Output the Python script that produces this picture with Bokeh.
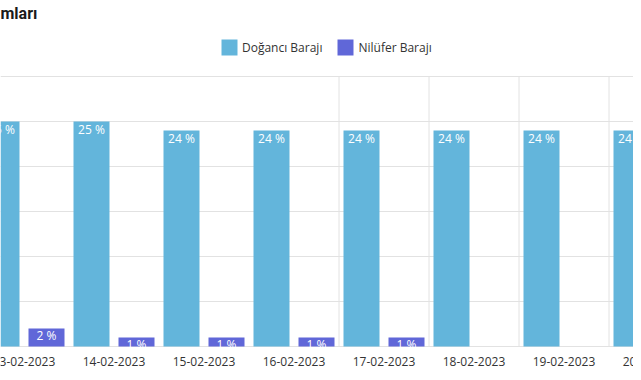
import numpy as np
from bokeh.plotting import figure
from bokeh.models import Range1d, FixedTicker, Legend, LegendItem, Label
from bokeh.core.properties import value
from bokeh.embed import file_html
from bokeh.resources import INLINE

# ---- data ----
title_text = "mları"
dates = ["13-02-2023", "14-02-2023", "15-02-2023", "16-02-2023",
         "17-02-2023", "18-02-2023", "19-02-2023", "20-02-2023"]
doganci = [25, 25, 24, 24, 24, 24, 24, 24]
nilufer = [2, 1, 1, 1, 1, 0, 0, 0]
series_names = ["Doğancı Barajı", "Nilüfer Barajı"]
y_ticks = [0, 5, 10, 15, 20, 25, 30]

colors = ["#63b5db", "#6067d8"]
font = "Open Sans"

idx = np.arange(len(dates))

W, H = 633, 372
p = figure(width=W, height=H, output_backend="svg", toolbar_location=None,
           x_range=Range1d(-23.5 / 90, (W - 23.5) / 90),
           y_range=Range1d(-(H - 346) / 9, 346 / 9),
           x_axis_location=None, y_axis_location=None, min_border=0)
p.outline_line_color = None
p.background_fill_color = "white"
p.border_fill_color = "white"
p.xgrid.visible = False
p.ygrid.ticker = FixedTicker(ticks=y_ticks)
p.ygrid.grid_line_color = "#e2e2e2"
p.ygrid.grid_line_width = 1

# partial vertical grid lines (category boundaries on the right side)
vgrid_x = idx[3:-1] + 0.5
p.segment(x0=vgrid_x, x1=vgrid_x, y0=[y_ticks[0]] * len(vgrid_x),
          y1=[y_ticks[-1]] * len(vgrid_x), line_color="#e2e2e2", line_width=1)

r1 = p.vbar(x=idx - 0.25, top=doganci, width=0.4, fill_color=colors[0], line_color=None)
r2 = p.vbar(x=idx + 0.25, top=nilufer, width=0.4, fill_color=colors[1], line_color=None)

# value labels
p.text(x=idx - 0.25, y=doganci, text=[f"{v} %" for v in doganci],
       text_color="white", text_font=value(font), text_font_size="12px",
       text_align="center", text_baseline="middle", y_offset=8)
nz = [i for i, v in enumerate(nilufer) if v > 0]
p.text(x=[idx[i] + 0.25 for i in nz], y=[nilufer[i] for i in nz],
       text=[f"{nilufer[i]} %" for i in nz],
       text_color="white", text_font=value(font), text_font_size="12px",
       text_align="center", text_baseline="middle", y_offset=7)

# category labels (drawn inside the frame so they crop at the edges)
p.text(x=idx, y=[0] * len(idx), text=dates, text_color="#333333",
       text_font=value(font), text_font_size="12px",
       text_align="center", text_baseline="middle", y_offset=15)

legend = Legend(items=[LegendItem(label=series_names[0], renderers=[r1]),
                       LegendItem(label=series_names[1], renderers=[r2])],
                location=(219, H - 57), orientation="horizontal",
                glyph_width=20, glyph_height=20, label_standoff=3, spacing=13,
                margin=0, padding=0, background_fill_alpha=0,
                border_line_color=None, label_text_font=font,
                label_text_font_size="12px", label_text_color="#333333")
p.add_layout(legend)

p.add_layout(Label(x=0, y=H - 3, x_units="screen", y_units="screen", text=title_text,
                   text_font="Roboto", text_font_style="bold", text_font_size="16px",
                   text_baseline="top", text_color="#1a1a1a"))

open("out.html", "w").write(file_html(p, INLINE))
